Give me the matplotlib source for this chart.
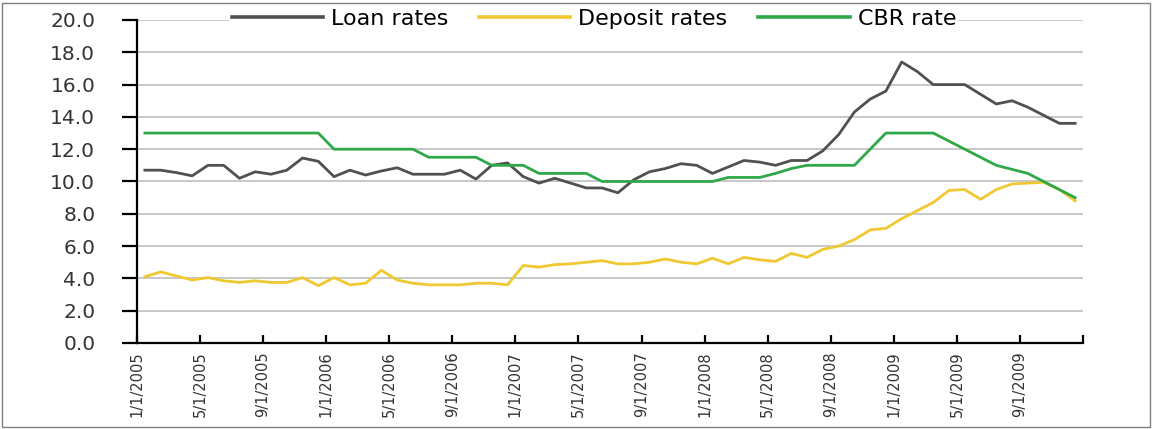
import matplotlib.pyplot as plt
import numpy as np
from matplotlib.patches import Rectangle

# monthly data, Jan 2005 - Dec 2009
loan_rates = [10.7, 10.7, 10.55, 10.35, 11.0, 11.0, 10.2, 10.6, 10.45, 10.7, 11.45, 11.25,
              10.3, 10.7, 10.4, 10.65, 10.85, 10.45, 10.45, 10.45, 10.7, 10.15, 11.0, 11.15,
              10.3, 9.9, 10.2, 9.9, 9.6, 9.6, 9.3, 10.1, 10.6, 10.8, 11.1, 11.0,
              10.5, 10.9, 11.3, 11.2, 11.0, 11.3, 11.3, 11.9, 12.9, 14.3, 15.1, 15.6,
              17.4, 16.8, 16.0, 16.0, 16.0, 15.4, 14.8, 15.0, 14.6, 14.1, 13.6, 13.6]
deposit_rates = [4.1, 4.4, 4.15, 3.9, 4.05, 3.85, 3.75, 3.85, 3.75, 3.75, 4.05, 3.55,
                 4.05, 3.6, 3.7, 4.5, 3.9, 3.7, 3.6, 3.6, 3.6, 3.7, 3.7, 3.6,
                 4.8, 4.7, 4.85, 4.9, 5.0, 5.1, 4.9, 4.9, 5.0, 5.2, 5.0, 4.9,
                 5.25, 4.9, 5.3, 5.15, 5.05, 5.55, 5.3, 5.8, 6.0, 6.4, 7.0, 7.1,
                 7.7, 8.2, 8.7, 9.45, 9.5, 8.9, 9.5, 9.85, 9.9, 9.95, 9.5, 8.8]
cbr_rate = [13.0] * 12 + [12.0] * 6 + [11.5] * 4 + [11.0] * 3 + [10.5] * 4 + [10.0] * 8 + \
           [10.25, 10.25, 10.25, 10.5, 10.8, 11.0, 11.0, 11.0, 11.0, 12.0, 13.0,
            13.0, 13.0, 13.0, 12.5, 12.0, 11.5, 11.0, 10.75, 10.5, 10.0, 9.5, 9.0]

tick_labels = ["1/1/2005", "5/1/2005", "9/1/2005", "1/1/2006", "5/1/2006", "9/1/2006",
               "1/1/2007", "5/1/2007", "9/1/2007", "1/1/2008", "5/1/2008", "9/1/2008",
               "1/1/2009", "5/1/2009", "9/1/2009"]

plt.rcParams['font.family'] = 'DejaVu Sans'

fig = plt.figure(figsize=(11.53, 4.29), dpi=100)
ax = fig.add_axes([0.1188, 0.2005, 0.8205, 0.7529])

x = np.arange(len(loan_rates))
ax.plot(x, loan_rates, color='#505050', lw=2.0, label='Loan rates')
ax.plot(x, deposit_rates, color='#f0c832', lw=2.0, label='Deposit rates')
ax.plot(x, cbr_rate, color='#2fa84a', lw=2.0, label='CBR rate')

ax.set_xlim(-0.5, len(x) - 0.5)
ax.set_ylim(0, 20)
yt = np.arange(0, 20.1, 2)
ax.set_yticks(yt)
ax.set_yticklabels([f"{v:.1f}" for v in yt], fontsize=14.5, color='#333333')
ax.set_xticks(np.arange(-0.5, len(x), 4))
ax.set_xticklabels(tick_labels + [""], rotation=90, fontsize=10.5, color='#333333')

ax.grid(axis='y', color='#c8c8c8', lw=1.4)
ax.set_axisbelow(True)
for s in ['top', 'right']:
    ax.spines[s].set_visible(False)
for s in ['left', 'bottom']:
    ax.spines[s].set_linewidth(1.6)
ax.tick_params(axis='y', direction='out', length=11, width=1.6, pad=19)
ax.tick_params(axis='x', direction='in', length=6, width=1.6, pad=6)

leg = fig.legend(loc='center', bbox_to_anchor=(0.515, 0.956), ncol=3, frameon=True,
                 fontsize=16, handlelength=4.1, handletextpad=0.36, columnspacing=1.4,
                 borderpad=0.1, edgecolor='none', facecolor='white', framealpha=1)
for line in leg.get_lines():
    line.set_linewidth(2.6)

fig.patches.append(Rectangle((0.002, 0.004), 0.995, 0.99, transform=fig.transFigure,
                             fill=False, edgecolor='#808080', lw=1.0))

fig.savefig('out.png', dpi=100)
